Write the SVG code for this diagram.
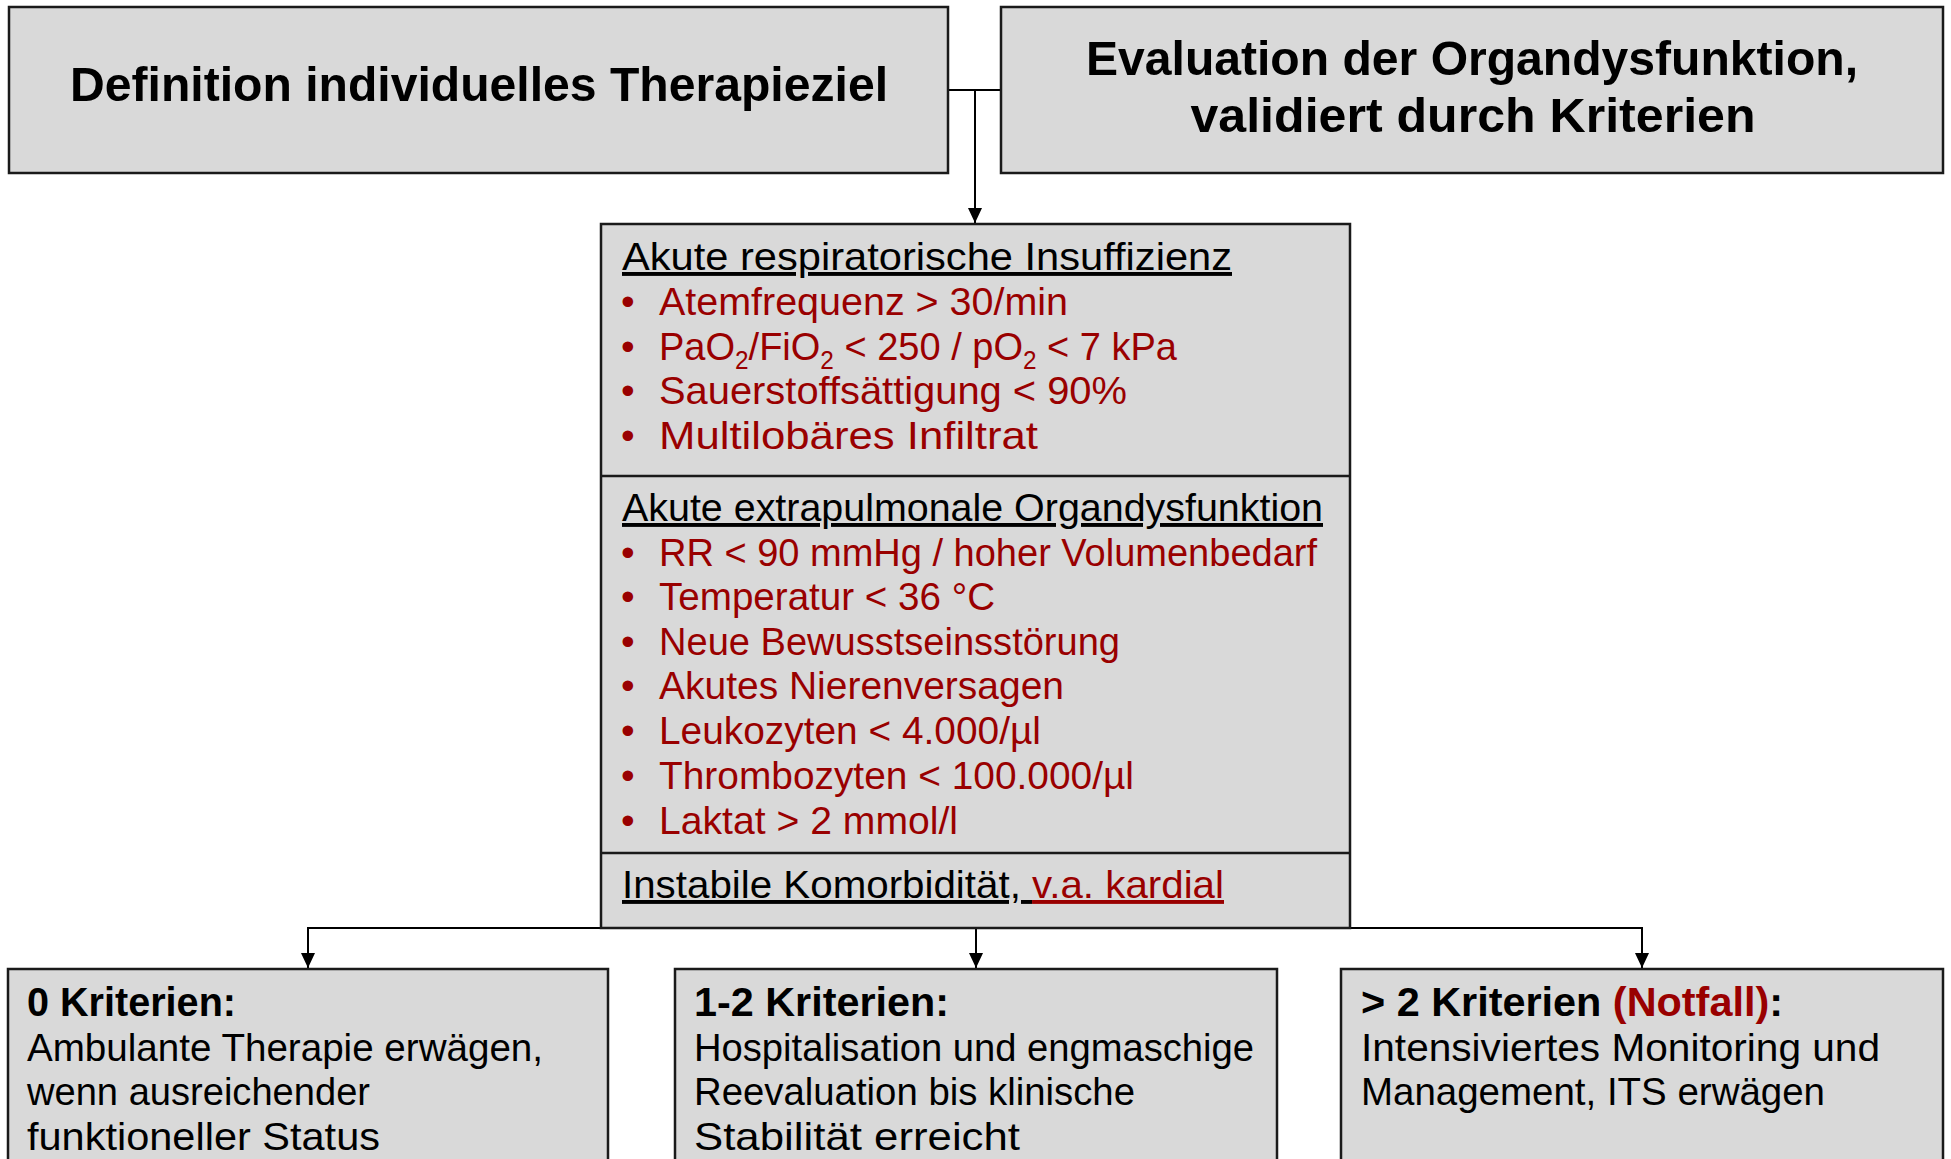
<svg xmlns="http://www.w3.org/2000/svg" width="1951" height="1159" viewBox="0 0 1951 1159">
<defs>
<style>
.box{fill:#D9D9D9;stroke:#1a1a1a;stroke-width:2.5}
.div{stroke:#1a1a1a;stroke-width:2.5}
.con{stroke:#000;stroke-width:2;fill:none}
.t{font-family:"Liberation Sans",Arial,sans-serif;font-size:39px;fill:#000}
.b{font-family:"Liberation Sans",Arial,sans-serif;font-weight:bold;fill:#000}
.h{font-size:48px}
.bb{font-size:40px}
.r{fill:#990000}
.u{text-decoration:underline}
.sub{font-size:25px}
</style>
<marker id="arr" markerUnits="userSpaceOnUse" markerWidth="16" markerHeight="18" refX="15" refY="7" orient="auto">
<path d="M0,0 L15,7 L0,14 Z" fill="#000"/>
</marker>
</defs>
<rect width="1951" height="1159" fill="#fff"/>

<g id="connectors">
<line class="con" x1="948" y1="90" x2="1001" y2="90"/>
<line class="con" x1="975" y1="90" x2="975" y2="223" marker-end="url(#arr)"/>
<polyline class="con" points="308,968 308,928 1642,928 1642,968" marker-end="url(#arr)"/>
<line class="con" x1="308" y1="928" x2="308" y2="968" marker-end="url(#arr)"/>
<line class="con" x1="976" y1="928" x2="976" y2="968" marker-end="url(#arr)"/>
</g>

<g id="node-therapieziel">
<rect class="box" x="9" y="7" width="939" height="166"/>
<text class="b h" x="479" y="101" text-anchor="middle" textLength="818" lengthAdjust="spacingAndGlyphs">Definition individuelles Therapieziel</text>
</g>

<g id="node-evaluation">
<rect class="box" x="1001" y="7" width="942" height="166"/>
<text class="b h" x="1472" y="75" text-anchor="middle" textLength="772" lengthAdjust="spacingAndGlyphs">Evaluation der Organdysfunktion,</text>
<text class="b h" x="1473" y="132" text-anchor="middle" textLength="565" lengthAdjust="spacingAndGlyphs">validiert durch Kriterien</text>
</g>

<g id="node-kriterien">
<rect class="box" x="601" y="224" width="749" height="704"/>
<line class="div" x1="601" y1="476" x2="1350" y2="476"/>
<line class="div" x1="601" y1="853" x2="1350" y2="853"/>
<text class="t u" x="622" y="270" textLength="610" lengthAdjust="spacingAndGlyphs">Akute respiratorische Insuffizienz</text>
<g class="t r">
<text class="t r" x="621" y="315">•</text>
<text class="t r" x="621" y="360">•</text>
<text class="t r" x="621" y="404">•</text>
<text class="t r" x="621" y="449">•</text>
<text class="t r" x="621" y="566">•</text>
<text class="t r" x="621" y="610">•</text>
<text class="t r" x="621" y="655">•</text>
<text class="t r" x="621" y="699">•</text>
<text class="t r" x="621" y="744">•</text>
<text class="t r" x="621" y="789">•</text>
<text class="t r" x="621" y="834">•</text>
</g>
<text class="t r" x="659" y="315" textLength="409" lengthAdjust="spacingAndGlyphs">Atemfrequenz &gt; 30/min</text>
<text class="t r" x="659" y="360" textLength="518" lengthAdjust="spacingAndGlyphs">PaO<tspan class="sub" dy="9">2</tspan><tspan dy="-9">/FiO</tspan><tspan class="sub" dy="9">2</tspan><tspan dy="-9"> &lt; 250 / pO</tspan><tspan class="sub" dy="9">2</tspan><tspan dy="-9"> &lt; 7 kPa</tspan></text>
<text class="t r" x="659" y="404" textLength="468" lengthAdjust="spacingAndGlyphs">Sauerstoffsättigung &lt; 90%</text>
<text class="t r" x="659" y="449" textLength="379" lengthAdjust="spacingAndGlyphs">Multilobäres Infiltrat</text>
<text class="t u" x="622" y="521" textLength="701" lengthAdjust="spacingAndGlyphs">Akute extrapulmonale Organdysfunktion</text>
<text class="t r" x="659" y="566" textLength="658" lengthAdjust="spacingAndGlyphs">RR &lt; 90 mmHg / hoher Volumenbedarf</text>
<text class="t r" x="659" y="610" textLength="336" lengthAdjust="spacingAndGlyphs">Temperatur &lt; 36 °C</text>
<text class="t r" x="659" y="655" textLength="461" lengthAdjust="spacingAndGlyphs">Neue Bewusstseinsstörung</text>
<text class="t r" x="659" y="699" textLength="405" lengthAdjust="spacingAndGlyphs">Akutes Nierenversagen</text>
<text class="t r" x="659" y="744" textLength="382" lengthAdjust="spacingAndGlyphs">Leukozyten &lt; 4.000/µl</text>
<text class="t r" x="659" y="789" textLength="475" lengthAdjust="spacingAndGlyphs">Thrombozyten &lt; 100.000/µl</text>
<text class="t r" x="659" y="834" textLength="299" lengthAdjust="spacingAndGlyphs">Laktat &gt; 2 mmol/l</text>
<text class="t" x="622" y="898" textLength="602" lengthAdjust="spacingAndGlyphs"><tspan class="u">Instabile Komorbidität, </tspan><tspan class="r u">v.a. kardial</tspan></text>
</g>

<g id="node-0-kriterien">
<rect class="box" x="8" y="969" width="600" height="200"/>
<text class="b bb" x="27" y="1016" textLength="209" lengthAdjust="spacingAndGlyphs">0 Kriterien:</text>
<text class="t" x="27" y="1061" textLength="516" lengthAdjust="spacingAndGlyphs">Ambulante Therapie erwägen,</text>
<text class="t" x="27" y="1105" textLength="343" lengthAdjust="spacingAndGlyphs">wenn ausreichender</text>
<text class="t" x="27" y="1150" textLength="353" lengthAdjust="spacingAndGlyphs">funktioneller Status</text>
</g>

<g id="node-1-2-kriterien">
<rect class="box" x="675" y="969" width="602" height="200"/>
<text class="b bb" x="694" y="1016" textLength="255" lengthAdjust="spacingAndGlyphs">1-2 Kriterien:</text>
<text class="t" x="694" y="1061" textLength="560" lengthAdjust="spacingAndGlyphs">Hospitalisation und engmaschige</text>
<text class="t" x="694" y="1105" textLength="441" lengthAdjust="spacingAndGlyphs">Reevaluation bis klinische</text>
<text class="t" x="694" y="1150" textLength="326" lengthAdjust="spacingAndGlyphs">Stabilität erreicht</text>
</g>

<g id="node-mehr-als-2-kriterien">
<rect class="box" x="1341" y="969" width="602" height="200"/>
<text class="b bb" x="1361" y="1016" textLength="422" lengthAdjust="spacingAndGlyphs">&gt; 2 Kriterien <tspan class="r">(Notfall)</tspan>:</text>
<text class="t" x="1361" y="1061" textLength="519" lengthAdjust="spacingAndGlyphs">Intensiviertes Monitoring und</text>
<text class="t" x="1361" y="1105" textLength="464" lengthAdjust="spacingAndGlyphs">Management, ITS erwägen</text>
</g>
</svg>
